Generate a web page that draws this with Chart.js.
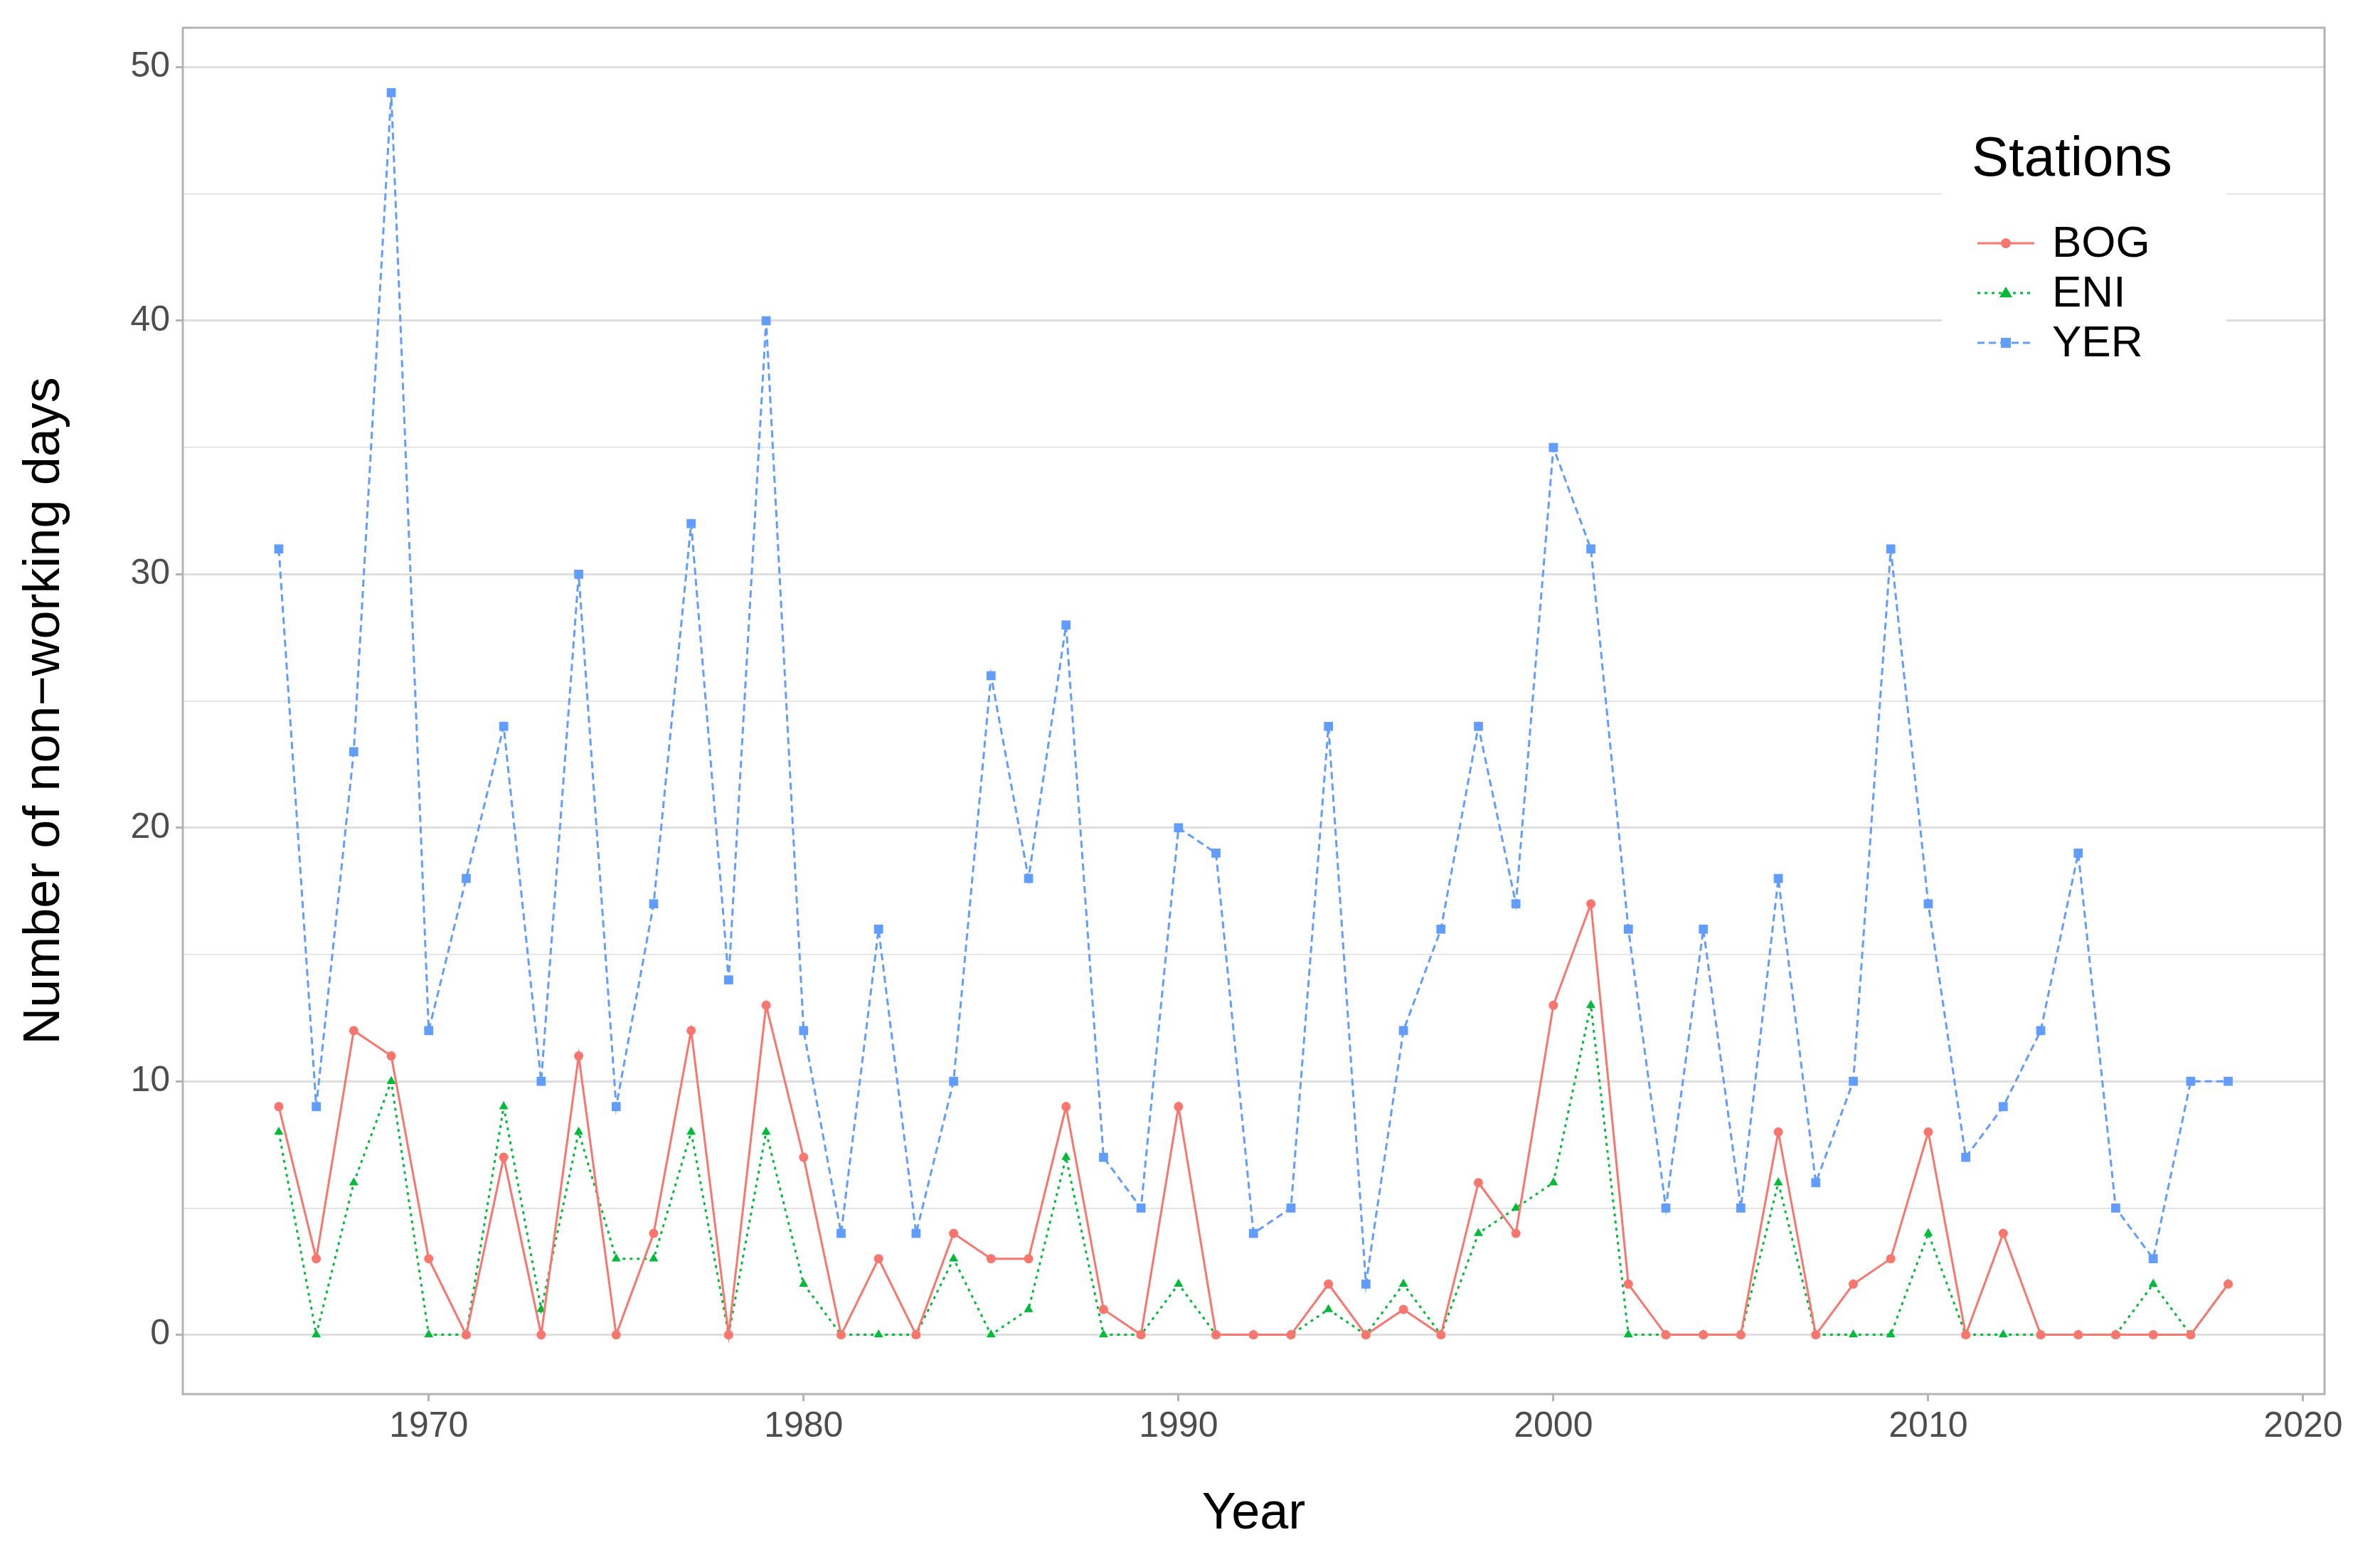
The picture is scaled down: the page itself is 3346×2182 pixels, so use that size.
<!DOCTYPE html>
<html><head><meta charset="utf-8">
<script src="https://cdn.jsdelivr.net/npm/chart.js@4/dist/chart.umd.min.js"></script>
<style>html,body{margin:0;padding:0;background:#fff}#w{width:3346px;height:2182px}</style>
</head><body><div id="w"><canvas id="c"></canvas></div>
<script>
const years=[];for(let y=1966;y<=2018;y++)years.push(y);
const BOG=[9,3,12,11,3,0,7,0,11,0,4,12,0,13,7,0,3,0,4,3,3,9,1,0,9,0,0,0,2,0,1,0,6,4,13,17,2,0,0,0,8,0,2,3,8,0,4,0,0,0,0,0,2];
const ENI=[8,0,6,10,0,0,9,1,8,3,3,8,0,8,2,0,0,0,3,0,1,7,0,0,2,0,0,0,1,0,2,0,4,5,6,13,0,0,0,0,6,0,0,0,4,0,0,0,0,0,2,0,2];
const YER=[31,9,23,49,12,18,24,10,30,9,17,32,14,40,12,4,16,4,10,26,18,28,7,5,20,19,4,5,24,2,12,16,24,17,35,31,16,5,16,5,18,6,10,31,17,7,9,12,19,5,3,10,10];
const xTicks=[1970,1980,1990,2000,2010,2020];
const yTicks=[0,10,20,30,40,50];
const yMinor=[5,15,25,35,45];
const seriesNames=['BOG','ENI','YER'];
const colors=['#F8766D','#00BA38','#619CFF'];
const styles=['circle','triangle','rect'];
const dashes=[[],[4,6],[10,6]];
const vals=[BOG,ENI,YER];
const F='"Liberation Sans", Arial, sans-serif';
const datasets=vals.map((v,i)=>({label:seriesNames[i],data:v.map((d,j)=>({x:years[j],y:d})),borderColor:colors[i],backgroundColor:colors[i],borderWidth:3,borderDash:dashes[i],pointStyle:styles[i],pointRadius:i==2?9:(i==1?7.5:6.5),pointBorderWidth:0,tension:0}));
const legendPlugin={id:'lg',afterDraw(c){const x=c.ctx;x.save();
 x.fillStyle='#fff';x.fillRect(2730,165,400,310);
 x.fillStyle='#000';x.font='78px '+F;x.textBaseline='middle';x.fillText('Stations',2772,225);
 seriesNames.forEach((n,i)=>{const yy=342+i*70;x.strokeStyle=colors[i];x.lineWidth=3;x.setLineDash(dashes[i]);x.beginPath();x.moveTo(2780,yy);x.lineTo(2860,yy);x.stroke();x.setLineDash([]);
  x.fillStyle=colors[i];x.beginPath();
  if(i==0){x.arc(2820,yy,7,0,Math.PI*2);}else if(i==1){x.moveTo(2820,yy-9);x.lineTo(2829,yy+6);x.lineTo(2811,yy+6);x.closePath();}else{x.rect(2813,yy-7,14,14);}
  x.fill();x.fillStyle='#000';x.font='62px '+F;x.fillText(n,2885,yy+2);});
 const a=c.chartArea;x.strokeStyle='#b3b3b3';x.lineWidth=3;x.strokeRect(a.left,a.top,a.right-a.left,a.bottom-a.top);
 x.restore();}};
new Chart(document.getElementById('c'),{type:'line',data:{datasets},plugins:[legendPlugin],
options:{responsive:true,maintainAspectRatio:false,animation:false,devicePixelRatio:1,
layout:{padding:{top:39,right:78,left:0,bottom:0}},
plugins:{legend:{display:false},tooltip:{enabled:false}},
scales:{
x:{type:'linear',min:1963.44,max:2020.57,afterBuildTicks:s=>{s.ticks=xTicks.map(v=>({value:v}));},
 grid:{display:true,drawOnChartArea:false,drawTicks:true,tickLength:10,color:'#b3b3b3',lineWidth:3},border:{display:false},
 ticks:{font:{size:50,family:F},color:'#4d4d4d',padding:6,maxRotation:0,callback:v=>String(v)},
 title:{display:true,text:'Year',font:{size:72,family:F},color:'#000',padding:{top:0,bottom:10}},
 afterFit:s=>{s.height=222;}},
y:{min:-2.34,max:51.56,afterBuildTicks:s=>{s.ticks=[...yTicks,...yMinor].sort((a,b)=>a-b).map(v=>({value:v}));},
 grid:{color:'#dedede',lineWidth:c=>(c.tick&&c.tick.value%10===0)?3:1.6,tickLength:10,tickColor:c=>(c.tick&&c.tick.value%10===0)?'#b3b3b3':'rgba(0,0,0,0)'},border:{display:false},
 ticks:{font:{size:50,family:F},color:'#4d4d4d',padding:8,callback:v=>v%10===0?String(v):''},
 title:{display:true,text:'Number of non\u2212working days',font:{size:72,family:F},color:'#000',padding:{top:20,bottom:20}},
 afterFit:s=>{s.width=257;}}}}});
</script></body></html>
